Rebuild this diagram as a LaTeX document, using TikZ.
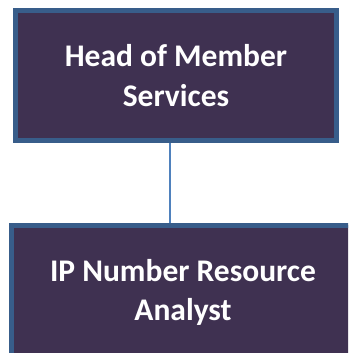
\documentclass[tikz,border=0pt]{standalone}
\usepackage{fontspec}
\setmainfont{Carlito}
\usetikzlibrary{positioning}
\definecolor{boxfill}{HTML}{3F3151}
\definecolor{boxline}{HTML}{385D8A}
\definecolor{linkline}{HTML}{4F81BD}
\tikzset{
    rolenode/.style = {rectangle, line width=5pt, draw=boxline, fill=boxfill, align=center, inner sep=0pt, font=\bfseries\fontsize{31.5}{39.5}\selectfont, text=white},
    link/.style = {-, line width=2pt, linkline}
}

\begin{document}
\begin{tikzpicture}[x=1pt,y=1pt]
\clip (0,0) rectangle (348,353);
\node[rolenode, minimum width=321pt, minimum height=130pt] at (176.0, 277.5) (head) {Head of Member\\Services};
\node[rolenode, minimum width=343pt, minimum height=134pt] at (183.0, 60.5) (analyst) {IP Number Resource\\Analyst};
%
\draw[link] ([xshift=-6pt]head.south) -- ([xshift=-13pt]analyst.north);

\useasboundingbox (0,0) rectangle (348,353);
\end{tikzpicture}
\end{document}
